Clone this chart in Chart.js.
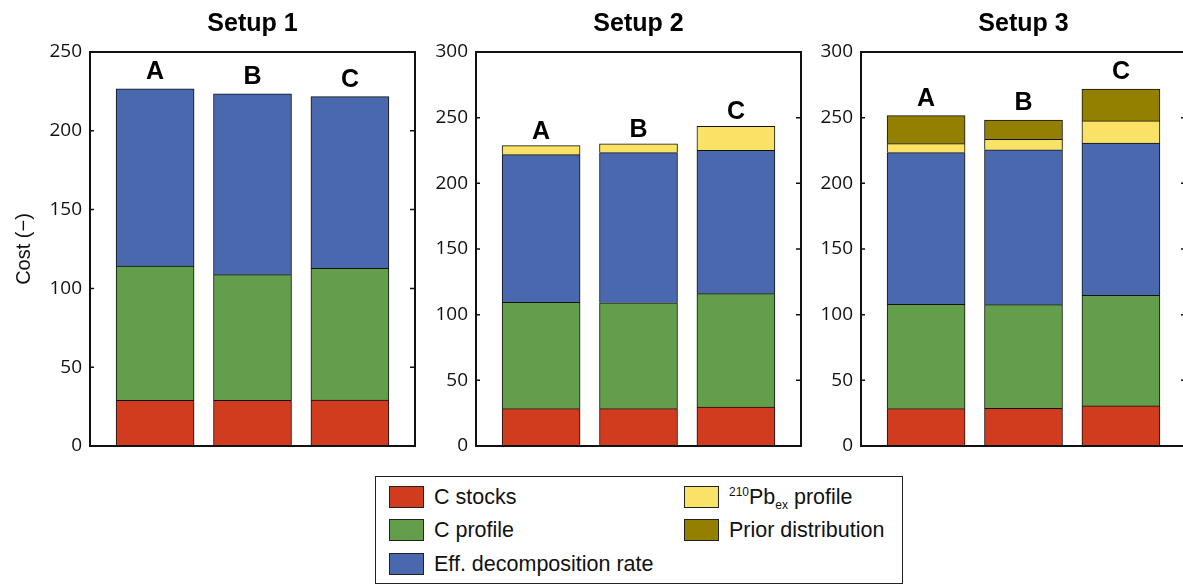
<!DOCTYPE html>
<html>
<head>
<meta charset="utf-8">
<script src="https://cdn.jsdelivr.net/npm/chart.js"></script>
<style>
  html, body { margin: 0; padding: 0; background: #fff; }
  body { position: relative; width: 1183px; height: 585px; overflow: hidden; }
  canvas { position: absolute; top: 0; }
  #legend {
    position: absolute; left: 375px; top: 476px; width: 528px; height: 108px;
    border: 1.5px solid #222; box-sizing: border-box;
    font-family: "Liberation Sans", Arial, sans-serif; font-size: 21.5px; color: #111;
  }
  .item { position: absolute; height: 22px; line-height: 22px; white-space: nowrap; }
  .sw { display: inline-block; width: 35px; height: 22px; box-sizing: border-box;
        border: 1px solid #222; vertical-align: top; margin-right: 10px; }
  sup, sub { font-size: 12px; line-height: 0; }
</style>
</head>
<body>
<canvas id="setup1" width="430" height="470" style="left:0px"></canvas>
<canvas id="setup2" width="410" height="470" style="left:420px"></canvas>
<canvas id="setup3" width="400" height="470" style="left:800px"></canvas>
<div id="legend"></div>

<script>
// ---- data ----
const categories = ["A", "B", "C"];
const setupTitles = ["Setup 1", "Setup 2", "Setup 3"];
const yMax = [250, 300, 300];

// each array: [setup1, setup2, setup3], inner = bars A, B, C
const cStocks = [[29.0, 29.0, 29.2], [28.4, 28.4, 29.7], [28.4, 28.7, 30.5]];
const cProfile = [[85.2, 79.7, 83.5], [81.0, 80.7, 86.3], [79.5, 78.9, 84.2]];
const effDecomp = [[112.5, 114.7, 109.0], [112.4, 114.3, 109.1], [115.5, 118.0, 116.0]];
const pbProfile = [[0, 0, 0], [6.9, 6.6, 18.3], [6.8, 7.9, 16.8]];
const priorDist = [[0, 0, 0], [0, 0, 0], [21.3, 14.7, 24.3]];

const seriesNames = ["C stocks", "C profile", "Eff. decomposition rate", "210Pbex profile", "Prior distribution"];
const seriesColors = ["#d13c1f", "#639e4b", "#4a68ae", "#f9e265", "#948000"];
const seriesValues = [cStocks, cProfile, effDecomp, pbProfile, priorDist];

// ---- layout of the three panels ----
const panels = [
  { id: "setup1", axisW: 90, padRight: 15, gap: 19, yTitle: true },
  { id: "setup2", axisW: 56, padRight: 29, gap: 16, yTitle: false },
  { id: "setup3", axisW: 61, padRight: 14, gap: 19, yTitle: false },
];

const panelDecor = {
  id: "panelDecor",
  afterDatasetsDraw(chart, args, opts) {
    const { ctx, chartArea: a } = chart;
    const x = chart.scales.x, y = chart.scales.y;
    ctx.save();
    // letters above the bars
    ctx.fillStyle = "#000";
    ctx.font = 'bold 25px "Liberation Sans", Arial, sans-serif';
    ctx.textAlign = "center";
    ctx.textBaseline = "alphabetic";
    categories.forEach((c, i) => {
      let total = 0;
      chart.data.datasets.forEach((ds) => (total += ds.data[i].y));
      ctx.fillText(c, x.getPixelForValue(i + 1), y.getPixelForValue(total) - opts.gap + 9);
    });
    // inward ticks on both y axes
    ctx.strokeStyle = "#111";
    ctx.lineWidth = 1.5;
    y.ticks.forEach((t) => {
      const py = y.getPixelForValue(t.value);
      ctx.beginPath();
      ctx.moveTo(a.left, py);
      ctx.lineTo(a.left + 4, py);
      ctx.moveTo(a.right - 5, py);
      ctx.lineTo(a.right, py);
      ctx.stroke();
    });
    // box
    ctx.lineWidth = 2;
    ctx.strokeRect(a.left, a.top, a.right - a.left, a.bottom - a.top);
    ctx.restore();
  },
};

panels.forEach((p, k) => {
  new Chart(document.getElementById(p.id), {
    type: "bar",
    data: {
      datasets: seriesNames.map((name, s) => ({
        label: name,
        data: seriesValues[s][k].map((v, i) => ({ x: i + 1, y: v })),
        backgroundColor: seriesColors[s],
        borderColor: "#111",
        borderWidth: 1,
        barThickness: 78,
      })),
    },
    plugins: [panelDecor],
    options: {
      responsive: false,
      animation: false,
      layout: { padding: { top: 0, right: p.padRight, bottom: 24, left: 0 } },
      plugins: {
        legend: { display: false },
        tooltip: { enabled: false },
        title: {
          display: true,
          text: setupTitles[k],
          fullSize: false,
          color: "#000",
          font: { family: "Liberation Sans", size: 25, weight: "bold", lineHeight: 1.2 },
          padding: { top: 9, bottom: 13 },
        },
        panelDecor: { gap: p.gap },
      },
      scales: {
        x: {
          type: "linear",
          min: 0.332,
          max: 3.668,
          bounds: "data",
          offset: false,
          stacked: true,
          display: false,
          grid: { offset: false },
          ticks: { stepSize: 1 },
        },
        y: {
          stacked: true,
          min: 0,
          max: yMax[k],
          border: { display: false },
          grid: { display: false, drawTicks: false },
          ticks: {
            stepSize: 50,
            padding: 8,
            color: "#111",
            font: { family: "Open Sans", size: 19 },
          },
          title: {
            display: p.yTitle,
            text: "Cost (\u2212)",
            color: "#111",
            font: { family: "Liberation Sans", size: 20 },
            padding: { top: 12, bottom: 0 },
          },
          afterFit(scale) {
            scale.width = p.axisW;
            scale.paddingTop = 0;
            scale.paddingBottom = 0;
          },
        },
      },
    },
  });
});

// ---- legend (html so the isotope label can carry super/subscripts) ----
const legendMarkup = ["C stocks", "C profile", "Eff. decomposition rate",
  "<sup>210</sup>Pb<sub>ex</sub> profile", "Prior distribution"];
const legendSlots = [[13, 9], [13, 42], [13, 76], [308, 9], [308, 42]];
const legend = document.getElementById("legend");
legendMarkup.forEach((txt, s) => {
  const el = document.createElement("div");
  el.className = "item";
  el.style.left = legendSlots[s][0] + "px";
  el.style.top = legendSlots[s][1] + "px";
  el.innerHTML = '<span class="sw" style="background:' + seriesColors[s] + '"></span>' + txt;
  legend.appendChild(el);
});
</script>
</body>
</html>
